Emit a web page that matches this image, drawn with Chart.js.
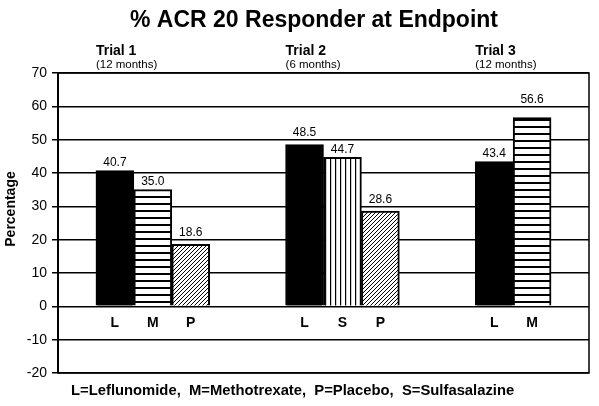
<!DOCTYPE html>
<html>
<head>
<meta charset="utf-8">
<script src="https://cdn.jsdelivr.net/npm/chart.js@4"></script>
<style>
  html, body { margin: 0; padding: 0; background: #fff; }
  #wrap { width: 599px; height: 406px; }
</style>
</head>
<body>
<div id="wrap"><canvas id="acrChart"></canvas></div>
<script>
// one slot per bar, empty slots make the gaps between trials
const slotLabels = ['', 'L', 'M', 'P', '', '', 'L', 'S', 'P', '', '', 'L', 'M', ''];
const responderPct = [null, 40.7, 35.0, 18.6, null, null, 48.5, 44.7, 28.6, null, null, 43.4, 56.6, null];
const trialNames = ['Trial 1', 'Trial 2', 'Trial 3'];
const trialDurations = ['(12 months)', '(6 months)', '(12 months)'];
const trialFirstSlot = [1, 6, 11];
const yTicks = [-20, -10, 0, 10, 20, 30, 40, 50, 60, 70];
const chartTitle = '% ACR 20 Responder at Endpoint';
const footnote = 'L=Leflunomide,  M=Methotrexate,  P=Placebo,  S=Sulfasalazine';

const FONT = 'Arial, "Liberation Sans", Helvetica, sans-serif';

function makePattern(kind) {
    const c = document.createElement('canvas');
    const ctx = c.getContext('2d');
    if (kind === 'h') {
        c.width = 4; c.height = 7;
        ctx.fillStyle = '#fff'; ctx.fillRect(0, 0, 4, 7);
        ctx.fillStyle = '#000'; ctx.fillRect(0, 0, 4, 2);
    } else if (kind === 'v') {
        c.width = 5; c.height = 4;
        ctx.fillStyle = '#fff'; ctx.fillRect(0, 0, 5, 4);
        ctx.fillStyle = '#000'; ctx.fillRect(0, 0, 1.2, 4);
    } else {
        c.width = 4; c.height = 4;
        ctx.fillStyle = '#fff'; ctx.fillRect(0, 0, 4, 4);
        ctx.strokeStyle = '#000'; ctx.lineWidth = 1;
        ctx.beginPath();
        ctx.moveTo(0, 4); ctx.lineTo(4, 0);
        ctx.moveTo(-1, 1); ctx.lineTo(1, -1);
        ctx.moveTo(3, 5); ctx.lineTo(5, 3);
        ctx.stroke();
    }
    return document.getElementById('acrChart').getContext('2d').createPattern(c, 'repeat');
}

const fills = {
    L: '#000',
    M: makePattern('h'),
    S: makePattern('v'),
    P: makePattern('d')
};
const barFills = slotLabels.map(l => fills[l] || '#fff');

const extrasPlugin = {
    id: 'extras',
    afterDatasetsDraw(chart) {
        const ctx = chart.ctx;
        const area = chart.chartArea;
        const x = chart.scales.x;
        const y = chart.scales.y;
        const meta = chart.getDatasetMeta(0);
        const gridYs = yTicks.map(v => y.getPixelForValue(v));
        ctx.save();
        // frame round the plot
        ctx.strokeStyle = '#000';
        ctx.lineWidth = 1.5;
        ctx.strokeRect(area.left, area.top, area.right - area.left, area.bottom - area.top);
        ctx.fillStyle = '#000';
        ctx.textBaseline = 'middle';
        // title
        ctx.textAlign = 'center';
        ctx.font = 'bold 23px ' + FONT;
        ctx.fillText(chartTitle, 314, 21);
        // value labels, lifted above a grid line when they would sit on it
        ctx.font = '12px ' + FONT;
        meta.data.forEach((bar, i) => {
            if (responderPct[i] == null) return;
            let cy = bar.y - 8;
            gridYs.forEach(g => {
                if (Math.abs(g - cy) < 6) cy = g - 7;
            });
            ctx.fillText(responderPct[i].toFixed(1), bar.x, cy);
        });
        // trial headers
        ctx.textAlign = 'left';
        trialNames.forEach((name, i) => {
            const left = x.getPixelForValue(trialFirstSlot[i]) - meta.data[trialFirstSlot[i]].width / 2;
            ctx.font = 'bold 14px ' + FONT;
            ctx.fillText(name, left, 51);
            ctx.font = '11.5px ' + FONT;
            ctx.fillText(trialDurations[i], left, 65);
        });
        // footnote
        ctx.font = 'bold 14.8px ' + FONT;
        ctx.fillText(footnote, 71, 391);
        // y axis title
        ctx.translate(11, 209);
        ctx.rotate(-Math.PI / 2);
        ctx.textAlign = 'center';
        ctx.font = 'bold 14px ' + FONT;
        ctx.fillText('Percentage', 0, 0);
        ctx.restore();
    }
};

new Chart(document.getElementById('acrChart'), {
    type: 'bar',
    data: {
        labels: slotLabels,
        datasets: [{
            data: responderPct,
            backgroundColor: barFills,
            borderColor: '#000',
            borderWidth: 2,
            barPercentage: 1,
            categoryPercentage: 1
        }]
    },
    options: {
        responsive: true,
        maintainAspectRatio: false,
        animation: false,
        devicePixelRatio: 1,
        layout: { padding: { left: 0, right: 10, top: 73, bottom: 33 } },
        plugins: {
            legend: { display: false },
            tooltip: { enabled: false },
            title: { display: false }
        },
        scales: {
            x: {
                position: { y: 0 },
                grid: { display: false },
                border: { display: false },
                ticks: {
                    color: '#000',
                    padding: 0,
                    font: { family: FONT, size: 14, weight: 'bold' }
                }
            },
            y: {
                min: -20,
                max: 70,
                afterBuildTicks(scale) {
                    scale.ticks = yTicks.map(v => ({ value: v }));
                },
                afterFit(scale) { scale.width = 58; },
                grid: { color: '#000', lineWidth: 1.5, tickLength: 6 },
                border: { color: '#000', width: 2 },
                ticks: {
                    color: '#000',
                    padding: 5,
                    font: { family: FONT, size: 14 }
                }
            }
        }
    },
    plugins: [extrasPlugin]
});
</script>
</body>
</html>
